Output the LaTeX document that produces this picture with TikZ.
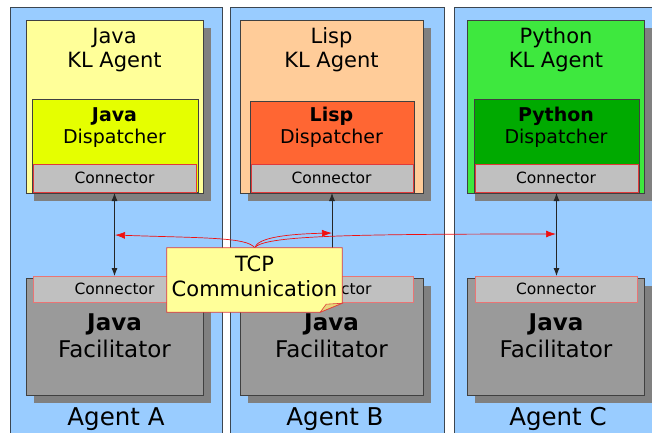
\documentclass[tikz,border=0pt]{standalone}
\usepackage{fontspec}
\setmainfont{DejaVu Sans}
\usetikzlibrary{arrows.meta}
\definecolor{panelblue}{HTML}{99CCFF}
\definecolor{panelline}{HTML}{3C4650}
\definecolor{boxline}{HTML}{404040}
\definecolor{shadowgray}{HTML}{808080}
\definecolor{javaagent}{HTML}{FFFF99}
\definecolor{javadisp}{HTML}{E5FF00}
\definecolor{lispagent}{HTML}{FFCC99}
\definecolor{lispdisp}{HTML}{FF6633}
\definecolor{pyagent}{HTML}{3EE83E}
\definecolor{pydisp}{HTML}{00AA00}
\definecolor{congray}{HTML}{C0C0C0}
\definecolor{conred}{HTML}{E03A3A}
\definecolor{tcpred}{HTML}{F01010}
\definecolor{faccol}{HTML}{9A9A9A}
\definecolor{callfill}{HTML}{FFFF99}
\definecolor{foldcol}{HTML}{E8D77A}
\newcommand\ftitle{\fontsize{21}{24}\selectfont}
\newcommand\fdisp{\fontsize{19}{22}\selectfont}
\newcommand\fcon{\fontsize{15.5}{18}\selectfont}
\newcommand\ffac{\fontsize{23}{26}\selectfont}
\newcommand\fagent{\fontsize{24.5}{28}\selectfont}
\newcommand\ftcp{\fontsize{21}{24}\selectfont}
% \mkbox{name}{x1}{y1}{x2}{y2}{style}
\newcommand\mkbox[6]{\node[boxbase,#6,minimum width={#4pt-#2pt},minimum height={#5pt-#3pt}] (#1) at (#2,#3) {};}
\newcommand\mkshadow[4]{\fill[shadowgray] (#1+8,#2+8) rectangle (#3+8,#4+8);}
\begin{document}
\begin{tikzpicture}[x=1pt,y=-1pt,
  boxbase/.style={anchor=north west,inner sep=0pt,outer sep=0pt,draw=boxline,line width=0.8pt},
  panel/.style={fill=panelblue,draw=panelline,line width=1pt},
  conbox/.style={fill=congray,draw=conred,line width=0.8pt},
  facbox/.style={fill=faccol,draw=boxline,line width=0.8pt},
  lbl/.style={anchor=base,inner sep=0pt},
  blackarrow/.style={draw=black!85,line width=0.8pt,{Latex[length=8pt,width=6pt]}-{Latex[length=8pt,width=6pt]}},
  redarrow/.style={draw=tcpred,line width=0.7pt,-{Latex[length=10pt,width=7pt]}},
  callout/.style={fill=callfill,draw=conred,line width=0.8pt}]
\useasboundingbox (0,0) rectangle (652,432);
\fill[white] (0,0) rectangle (652,432);
\clip (0,0) rectangle (652,432);
% panels
\path[panel] (10,7) rectangle (222,445);
\path[panel] (230,7) rectangle (444,445);
\path[panel] (454,7) rectangle (665,445);
% ---- Column A ----
\mkshadow{26}{20}{203}{193}
\mkbox{aag}{26}{20}{203}{193}{fill=javaagent}
\mkbox{adisp}{32}{99}{198}{192}{fill=javadisp}
\mkbox{acon}{33}{164}{196}{192}{conbox}
\node[lbl,font=\ftitle] (at1) at (114.5,43) {Java};
\node[lbl,font=\ftitle] (at2) at (114.5,67.5) {KL Agent};
\node[lbl,font=\fdisp\bfseries] (ad1) at (114.5,121.5) {Java};
\node[lbl,font=\fdisp] (ad2) at (114.5,143.5) {Dispatcher};
\node[lbl,font=\fcon] (ac1) at (114.5,183) {Connector};
\mkshadow{26}{278}{203}{395}
\mkbox{afac}{26}{278}{203}{395}{facbox}
\mkbox{afcon}{33}{276}{196}{302}{conbox,draw=conred!70}
\node[lbl,font=\fcon] (afc1) at (114.5,294) {Connector};
\node[lbl,font=\ffac\bfseries] (af1) at (114.5,330) {Java};
\node[lbl,font=\ffac] (af2) at (114.5,357.5) {Facilitator};
\node[lbl,font=\fagent] (alab) at (116,425) {Agent A};
% ---- Column B ----
\mkshadow{240}{20}{423}{193}
\mkbox{bag}{240}{20}{423}{193}{fill=lispagent}
\mkbox{bdisp}{250}{101}{414}{192}{fill=lispdisp}
\mkbox{bcon}{251}{164}{413}{192}{conbox}
\node[lbl,font=\ftitle] (bt1) at (331.5,43) {Lisp};
\node[lbl,font=\ftitle] (bt2) at (331.5,67.5) {KL Agent};
\node[lbl,font=\fdisp\bfseries] (bd1) at (331.5,121.5) {Lisp};
\node[lbl,font=\fdisp] (bd2) at (331.5,143.5) {Dispatcher};
\node[lbl,font=\fcon] (bc1) at (331.5,183) {Connector};
\mkshadow{240}{278}{423}{395}
\mkbox{bfac}{240}{278}{423}{395}{facbox}
\mkbox{bfcon}{250}{276}{413}{302}{conbox,draw=conred!70}
\node[lbl,font=\fcon] (bfc1) at (331.5,294) {Connector};
\node[lbl,font=\ffac\bfseries] (bf1) at (331.5,330) {Java};
\node[lbl,font=\ffac] (bf2) at (331.5,357.5) {Facilitator};
\node[lbl,font=\fagent] (blab) at (335,425) {Agent B};
% ---- Column C ----
\mkshadow{467}{20}{644}{193}
\mkbox{cag}{467}{20}{644}{193}{fill=pyagent}
\mkbox{cdisp}{474}{99}{639}{192}{fill=pydisp}
\mkbox{ccon}{475}{164}{638}{192}{conbox}
\node[lbl,font=\ftitle] (ct1) at (556,43) {Python};
\node[lbl,font=\ftitle] (ct2) at (556,67.5) {KL Agent};
\node[lbl,font=\fdisp\bfseries] (cd1) at (556,121.5) {Python};
\node[lbl,font=\fdisp] (cd2) at (556,143.5) {Dispatcher};
\node[lbl,font=\fcon] (cc1) at (556,183) {Connector};
\mkshadow{467}{278}{644}{395}
\mkbox{cfac}{467}{278}{644}{395}{facbox}
\mkbox{cfcon}{475}{276}{637}{302}{conbox,draw=conred!70}
\node[lbl,font=\fcon] (cfc1) at (556,294) {Connector};
\node[lbl,font=\ffac\bfseries] (cf1) at (556,330) {Java};
\node[lbl,font=\ffac] (cf2) at (556,357.5) {Facilitator};
\node[lbl,font=\fagent] (clab) at (558,425) {Agent C};
% ---- vertical connectors ----
\draw[blackarrow] ([yshift=-1pt]acon.south) -- (acon.south |- afcon.north);
\draw[blackarrow] ([yshift=-1pt]bcon.south) -- (bcon.south |- bfcon.north);
\draw[blackarrow] ([yshift=-1pt]ccon.south) -- (ccon.south |- cfcon.north);
% ---- TCP callout ----
\node[inner sep=0pt,minimum width=175pt,minimum height=64pt] (tcp) at (254.5,280) {};
\coordinate (ta) at (115,235);
\coordinate (tb) at (332,233);
\coordinate (tc) at (556,234);
\draw[redarrow] (tcp.north) .. controls (248,237) and (200,238) .. (ta);
\draw[redarrow] (tcp.north) .. controls (258,237) and (290,234) .. (tb);
\draw[redarrow] (tcp.north) .. controls (264,236) and (340,234) .. (tc);
\path[callout] (tcp.north west) -- (tcp.north east) -- ([yshift=9pt]tcp.south east) -- ([xshift=-22pt]tcp.south east) -- (tcp.south west) -- cycle;
\path[fill=foldcol,draw=conred,line width=0.6pt] ([xshift=-22pt]tcp.south east) -- ([xshift=-16pt,yshift=8pt]tcp.south east) -- ([yshift=9pt]tcp.south east) -- cycle;
\node[lbl,font=\ftcp] (tcp1) at (254.5,271.5) {TCP};
\node[lbl,font=\ftcp] (tcp2) at (254.5,296) {Communication};
\end{tikzpicture}
\end{document}
